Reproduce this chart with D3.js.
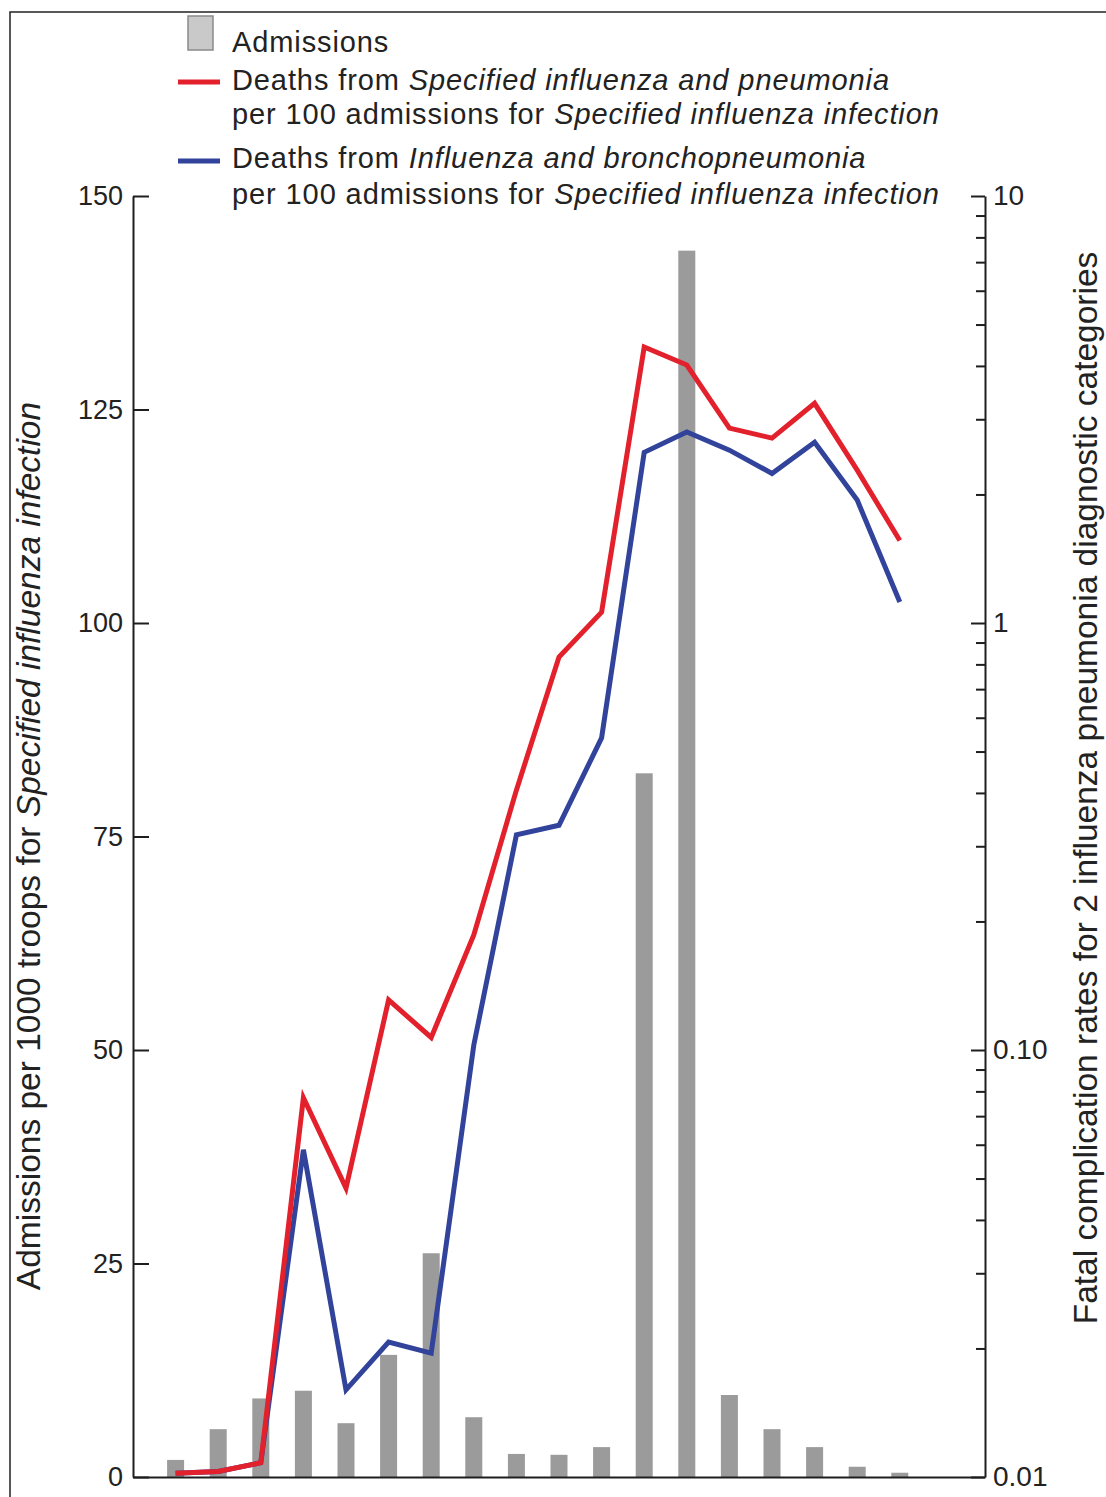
<!DOCTYPE html>
<html>
<head>
<meta charset="utf-8">
<script src="https://cdn.jsdelivr.net/npm/d3@7"></script>
<style>
  html, body { margin: 0; padding: 0; background: #fff; }
  svg { display: block; }
  text { font-family: "Liberation Sans", Arial, Helvetica, sans-serif; fill: #222; }
</style>
</head>
<body>
<svg id="chart" width="1106" height="1497"></svg>
<script>
// ---- Data ----
const periods = [1, 2, 3, 4, 5, 6, 7, 8, 9, 10, 11, 12, 13, 14, 15, 16, 17, 18];
// Admissions per 1000 troops for Specified influenza infection (left axis)
const admissions = [2.0, 5.6, 9.2, 10.1, 6.3, 14.3, 26.2, 7.0, 2.7, 2.6, 3.5, 82.4, 143.6, 9.6, 5.6, 3.5, 1.2, 0.5];
// Deaths from Specified influenza and pneumonia per 100 admissions (right, log axis)
const deathsPneumonia = [0.0102, 0.0103, 0.0108, 0.0773, 0.0475, 0.131, 0.107, 0.186, 0.406, 0.832, 1.06, 4.43, 4.02, 2.86, 2.71, 3.27, 2.28, 1.56];
// Deaths from Influenza and bronchopneumonia per 100 admissions (right, log axis)
const deathsBroncho = [0.0102, 0.0103, 0.0108, 0.0584, 0.016, 0.0207, 0.0195, 0.1027, 0.319, 0.336, 0.538, 2.51, 2.80, 2.54, 2.24, 2.65, 1.94, 1.12];

const leftTicks = [0, 25, 50, 75, 100, 125, 150];
const rightMajorTicks = [0.01, 0.1, 1, 10];
const rightMajorLabels = ["0.01", "0.10", "1", "10"];
const rightMinorTicks = [0.02, 0.03, 0.04, 0.05, 0.06, 0.07, 0.08, 0.09,
                         0.2, 0.3, 0.4, 0.5, 0.6, 0.7, 0.8, 0.9,
                         2, 3, 4, 5, 6, 7, 8, 9];

const legendItems = [
  { type: "bar", lines: [[["Admissions", false]]] },
  { type: "red", lines: [[["Deaths from ", false], ["Specified influenza and pneumonia", true]],
                         [["per 100 admissions for ", false], ["Specified influenza infection", true]]] },
  { type: "blue", lines: [[["Deaths from ", false], ["Influenza and bronchopneumonia", true]],
                          [["per 100 admissions for ", false], ["Specified influenza infection", true]]] }
];
const leftTitle = [["Admissions per 1000 troops for ", false], ["Specified influenza infection", true]];
const rightTitle = [["Fatal complication rates for 2 influenza pneumonia diagnostic categories", false]];

// ---- Layout ----
const X0 = 133, X1 = 985, Y0 = 1477, Y1 = 196;
const colors = { bar: "#9b9b9b", red: "#e3212c", blue: "#31439a", axis: "#1e1e1e" };

const svg = d3.select("#chart");

// frame
svg.append("path")
  .attr("d", "M10,1497V12H1106")
  .attr("fill", "none").attr("stroke", "#222").attr("stroke-width", 1.5);

const x = d3.scaleLinear().domain([0, 20]).range([X0, X1]);
const yL = d3.scaleLinear().domain([0, 150]).range([Y0, Y1]);
const yR = d3.scaleLog().domain([0.01, 10]).range([Y0, Y1]);

// bars
const barW = 17;
svg.append("g").selectAll("rect").data(periods).join("rect")
  .attr("x", (d) => x(d) - barW / 2)
  .attr("y", (d, i) => yL(admissions[i]))
  .attr("width", barW)
  .attr("height", (d, i) => Y0 - yL(admissions[i]))
  .attr("fill", colors.bar);

// lines
const line = (vals) => d3.line()
  .x((d) => x(d))
  .y((d, i) => yR(vals[i]))(periods);

svg.append("path").attr("d", line(deathsBroncho))
  .attr("fill", "none").attr("stroke", colors.blue).attr("stroke-width", 5)
  .attr("stroke-linejoin", "miter");
svg.append("path").attr("d", line(deathsPneumonia))
  .attr("fill", "none").attr("stroke", colors.red).attr("stroke-width", 5)
  .attr("stroke-linejoin", "miter");

// axes
function styleAxis(g) {
  g.selectAll(".domain").attr("stroke", colors.axis).attr("stroke-width", 2);
  g.selectAll(".tick line").attr("stroke", colors.axis).attr("stroke-width", 2);
  g.selectAll(".tick text").style("font-family", '"Liberation Sans", Arial, sans-serif')
    .attr("fill", "#222").style("font-size", "27px");
}

const gL = svg.append("g").attr("transform", `translate(${X0},0)`)
  .call(d3.axisLeft(yL).tickValues(leftTicks).tickSize(-16).tickSizeOuter(0).tickPadding(10)
    .tickFormat(d3.format("d")));
styleAxis(gL);

const gR = svg.append("g").attr("transform", `translate(${X1},0)`)
  .call(d3.axisRight(yR).tickValues(rightMajorTicks).tickSize(-14).tickSizeOuter(0).tickPadding(8)
    .tickFormat((d, i) => rightMajorLabels[i]));
styleAxis(gR);
gR.selectAll(".tick text").style("font-size", "28px");

const gRm = svg.append("g").attr("transform", `translate(${X1},0)`)
  .call(d3.axisRight(yR).tickValues(rightMinorTicks).tickSize(-9).tickSizeOuter(0).tickFormat(""));
styleAxis(gRm);
gRm.select(".domain").remove();

const gB = svg.append("g").attr("transform", `translate(0,${Y0})`)
  .call(d3.axisBottom(x).tickValues([]).tickSizeOuter(0));
styleAxis(gB);

// titles
function richText(sel, parts) {
  parts.forEach(([t, it]) => {
    sel.append("tspan").text(t).attr("font-style", it ? "italic" : "normal");
  });
  return sel;
}

richText(svg.append("text")
  .attr("transform", "translate(40,846) rotate(-90)")
  .attr("text-anchor", "middle")
  .style("font-size", "33.5px"), leftTitle);

richText(svg.append("text")
  .attr("transform", "translate(1097,788) rotate(-90)")
  .attr("text-anchor", "middle")
  .style("font-size", "33.5px"), rightTitle);

// legend
const lg = svg.append("g");
lg.append("rect").attr("x", 188).attr("y", 16).attr("width", 25).attr("height", 34)
  .attr("fill", "#c9c9c9").attr("stroke", "#8a8a8a").attr("stroke-width", 1.5);
lg.append("line").attr("x1", 178).attr("x2", 220).attr("y1", 82).attr("y2", 82)
  .attr("stroke", colors.red).attr("stroke-width", 5);
lg.append("line").attr("x1", 178).attr("x2", 220).attr("y1", 161).attr("y2", 161)
  .attr("stroke", colors.blue).attr("stroke-width", 5);

const baselines = [[52], [90, 124], [168, 204]];
legendItems.forEach((item, k) => {
  item.lines.forEach((parts, j) => {
    richText(lg.append("text").attr("x", 232).attr("y", baselines[k][j])
      .style("font-size", "29px").style("letter-spacing", "0.9px"), parts);
  });
});
</script>
</body>
</html>
